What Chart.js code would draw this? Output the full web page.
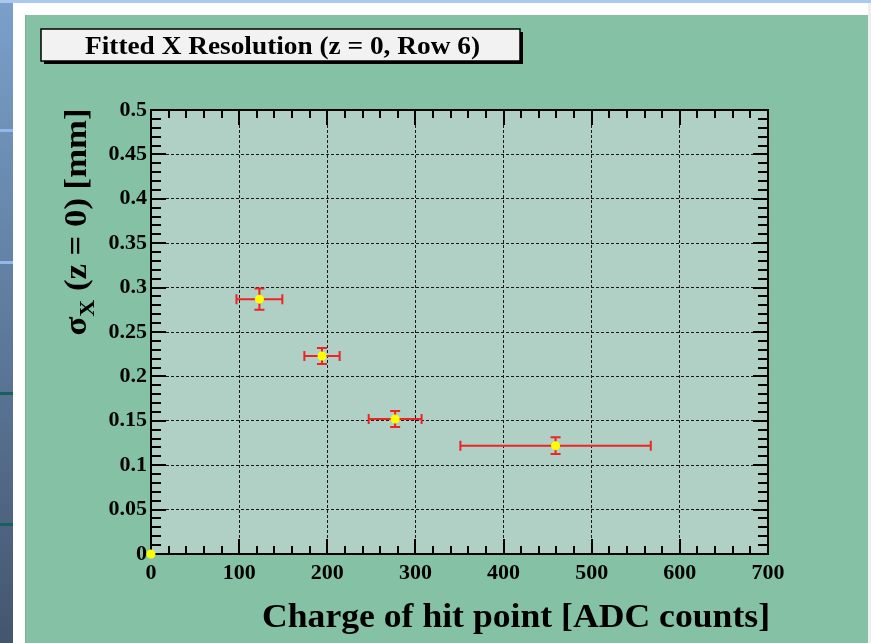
<!DOCTYPE html>
<html lang="en">
<head>
  <meta charset="UTF-8" />
  <title>Fitted X Resolution</title>
  <style>
    body { margin: 0; background: #ffffff; }
    canvas { display: block; }
  </style>
</head>
<body>
  <canvas id="resChart" width="871" height="643"></canvas>
  <script src="https://cdn.jsdelivr.net/npm/chart.js"></script>
  <script>
    // charge of hit point [ADC counts] and fitted sigma_X [mm]
    const charge = [0, 123, 194, 277, 459];
    const chargeErr = [0, 26, 20, 30, 108];
    const sigma = [0, 0.287, 0.223, 0.152, 0.122];
    const sigmaErr = [0, 0.012, 0.009, 0.009, 0.0095];

    const xTicks = [0, 100, 200, 300, 400, 500, 600, 700];
    const yTicks = [0, 0.05, 0.1, 0.15, 0.2, 0.25, 0.3, 0.35, 0.4, 0.45, 0.5];

    const titleText = 'Fitted X Resolution (z = 0, Row 6)';
    const xTitle = 'Charge of hit point [ADC counts]';

    const serif = '"Liberation Serif", "Times New Roman", serif';

    // text squeezed/stretched to a given width
    function fitText(ctx, text, x, y, width) {
      const w = ctx.measureText(text).width;
      ctx.save();
      ctx.translate(x, y);
      ctx.scale(width / w, 1);
      ctx.textAlign = 'left';
      ctx.fillText(text, 0, 0);
      ctx.restore();
    }

    // page background, panel, title box
    const backdrop = {
      id: 'backdrop',
      beforeDraw(chart) {
        const ctx = chart.ctx;
        const a = chart.chartArea;
        ctx.save();
        ctx.fillStyle = '#ffffff';
        ctx.fillRect(0, 0, 871, 643);
        // left strip
        const g = ctx.createLinearGradient(0, 0, 0, 643);
        g.addColorStop(0, '#7aa0ca');
        g.addColorStop(1, '#43566f');
        ctx.fillStyle = g;
        ctx.fillRect(0, 0, 13, 643);
        ctx.fillStyle = '#90b8ea';
        ctx.fillRect(0, 129, 13, 3);
        ctx.fillRect(0, 261, 13, 3);
        ctx.fillStyle = '#186060';
        ctx.fillRect(0, 392, 13, 3);
        ctx.fillRect(0, 523, 13, 3);
        // top strip
        ctx.fillStyle = '#a9c9ef';
        ctx.fillRect(0, 0, 871, 3);
        // right edge
        ctx.fillStyle = '#eeeeee';
        ctx.fillRect(868, 3, 3, 640);
        // green panel
        ctx.fillStyle = '#85c2a5';
        ctx.fillRect(25, 15, 843, 628);
        ctx.fillStyle = '#79b497';
        ctx.fillRect(25, 15, 1, 628);
        // plot area
        ctx.fillStyle = '#b0cfc5';
        ctx.fillRect(a.left, a.top, a.right - a.left, a.bottom - a.top);
        // title box with shadow
        ctx.fillStyle = '#000000';
        ctx.fillRect(44, 32, 479, 32);
        ctx.fillStyle = '#f2f2f2';
        ctx.fillRect(41, 29, 479, 32);
        ctx.strokeStyle = '#000000';
        ctx.lineWidth = 1.5;
        ctx.strokeRect(41, 29, 479, 32);
        ctx.fillStyle = '#000000';
        ctx.font = 'bold 25px ' + serif;
        ctx.textBaseline = 'alphabetic';
        fitText(ctx, titleText, 85, 54, 395);
        ctx.restore();
      }
    };

    // frame and inner ticks on all sides (under the markers)
    const frame = {
      id: 'frame',
      beforeDatasetsDraw(chart) {
        const ctx = chart.ctx;
        const a = chart.chartArea;
        const xs = chart.scales.x;
        const ys = chart.scales.y;
        ctx.save();
        ctx.strokeStyle = '#000000';
        ctx.lineWidth = 2;
        ctx.beginPath();
        for (let v = 0; v <= 700; v += 20) {
          const px = Math.round(xs.getPixelForValue(v));
          const len = v % 100 === 0 ? 15 : 8;
          ctx.moveTo(px, a.bottom); ctx.lineTo(px, a.bottom - len);
          ctx.moveTo(px, a.top); ctx.lineTo(px, a.top + len);
        }
        for (let k = 0; k <= 50; k++) {
          const py = Math.round(ys.getPixelForValue(k / 100));
          const len = k % 5 === 0 ? 15 : 10;
          ctx.moveTo(a.left, py); ctx.lineTo(a.left + len, py);
          ctx.moveTo(a.right, py); ctx.lineTo(a.right - len, py);
        }
        ctx.stroke();
        ctx.strokeRect(a.left, a.top, a.right - a.left, a.bottom - a.top);
        ctx.restore();
      }
    };

    // error bars under the markers
    const errorBars = {
      id: 'errorBars',
      beforeDatasetsDraw(chart) {
        const ctx = chart.ctx;
        const xs = chart.scales.x;
        const ys = chart.scales.y;
        ctx.save();
        ctx.strokeStyle = '#ee2424';
        ctx.lineWidth = 2;
        charge.forEach((c, i) => {
          const px = xs.getPixelForValue(c);
          const py = ys.getPixelForValue(sigma[i]);
          if (chargeErr[i] > 0) {
            const x0 = xs.getPixelForValue(c - chargeErr[i]);
            const x1 = xs.getPixelForValue(c + chargeErr[i]);
            ctx.beginPath();
            ctx.moveTo(x0, py); ctx.lineTo(x1, py);
            ctx.moveTo(x0, py - 5); ctx.lineTo(x0, py + 5);
            ctx.moveTo(x1, py - 5); ctx.lineTo(x1, py + 5);
            ctx.stroke();
          }
          if (sigmaErr[i] > 0) {
            const y0 = ys.getPixelForValue(sigma[i] - sigmaErr[i]);
            const y1 = ys.getPixelForValue(sigma[i] + sigmaErr[i]);
            ctx.beginPath();
            ctx.moveTo(px, y0); ctx.lineTo(px, y1);
            ctx.moveTo(px - 5, y0); ctx.lineTo(px + 5, y0);
            ctx.moveTo(px - 5, y1); ctx.lineTo(px + 5, y1);
            ctx.stroke();
          }
        });
        ctx.restore();
      }
    };

    // axis titles
    const axisTitles = {
      id: 'axisTitles',
      afterDraw(chart) {
        const ctx = chart.ctx;
        ctx.save();
        ctx.fillStyle = '#000000';
        ctx.textBaseline = 'alphabetic';
        // x title
        ctx.font = 'bold 34px ' + serif;
        fitText(ctx, xTitle, 262, 627, 508);

        // y title, rotated, with subscript X
        ctx.translate(86, 222);
        ctx.rotate(-Math.PI / 2);
        const big = 'bold 31px ' + serif;
        const small = 'bold 21px ' + serif;
        const rest = ' (z = 0) [mm]';
        ctx.font = big;
        const wSig = ctx.measureText('\u03c3').width;
        const wRest = ctx.measureText(rest).width;
        ctx.font = small;
        const wSub = ctx.measureText('X').width;
        const total = wSig + wSub + wRest;
        const k = 227 / total;
        ctx.scale(k, 1);
        let x = -total / 2;
        ctx.textAlign = 'left';
        ctx.font = big;
        ctx.fillText('\u03c3', x, 0);
        x += wSig;
        ctx.font = small;
        ctx.fillText('X', x, 8);
        x += wSub;
        ctx.font = big;
        ctx.fillText(rest, x, 0);
        ctx.restore();
      }
    };

    new Chart(document.getElementById('resChart'), {
      type: 'scatter',
      data: {
        datasets: [{
          label: 'sigma_X',
          data: charge.map((c, i) => ({ x: c, y: sigma[i] })),
          pointRadius: 4.5,
          pointHoverRadius: 4.5,
          pointBackgroundColor: '#ffff00',
          pointBorderWidth: 0,
          clip: false
        }]
      },
      options: {
        responsive: false,
        animation: false,
        devicePixelRatio: 1,
        layout: { padding: { top: 110, right: 103, left: 0, bottom: 0 } },
        plugins: {
          legend: { display: false },
          tooltip: { enabled: false }
        },
        scales: {
          x: {
            type: 'linear',
            min: 0,
            max: 700,
            afterFit: s => { s.height = 89; },
            afterBuildTicks: s => { s.ticks = xTicks.map(v => ({ value: v })); },
            grid: { color: '#1a1a1a', lineWidth: 1, drawTicks: false },
            border: { display: false, dash: [3, 2] },
            ticks: {
              padding: 6,
              color: '#000000',
              font: { family: serif, size: 22, weight: 'bold' },
              maxRotation: 0,
              callback: v => String(v)
            }
          },
          y: {
            type: 'linear',
            min: 0,
            max: 0.5,
            afterFit: s => { s.width = 151; },
            afterBuildTicks: s => { s.ticks = yTicks.map(v => ({ value: v })); },
            grid: { color: '#1a1a1a', lineWidth: 1, drawTicks: false },
            border: { display: false, dash: [3, 2] },
            ticks: {
              padding: 4,
              color: '#000000',
              font: { family: serif, size: 22, weight: 'bold' },
              callback: v => String(+v.toFixed(2))
            }
          }
        }
      },
      plugins: [backdrop, frame, errorBars, axisTitles]
    });
  </script>
</body>
</html>
